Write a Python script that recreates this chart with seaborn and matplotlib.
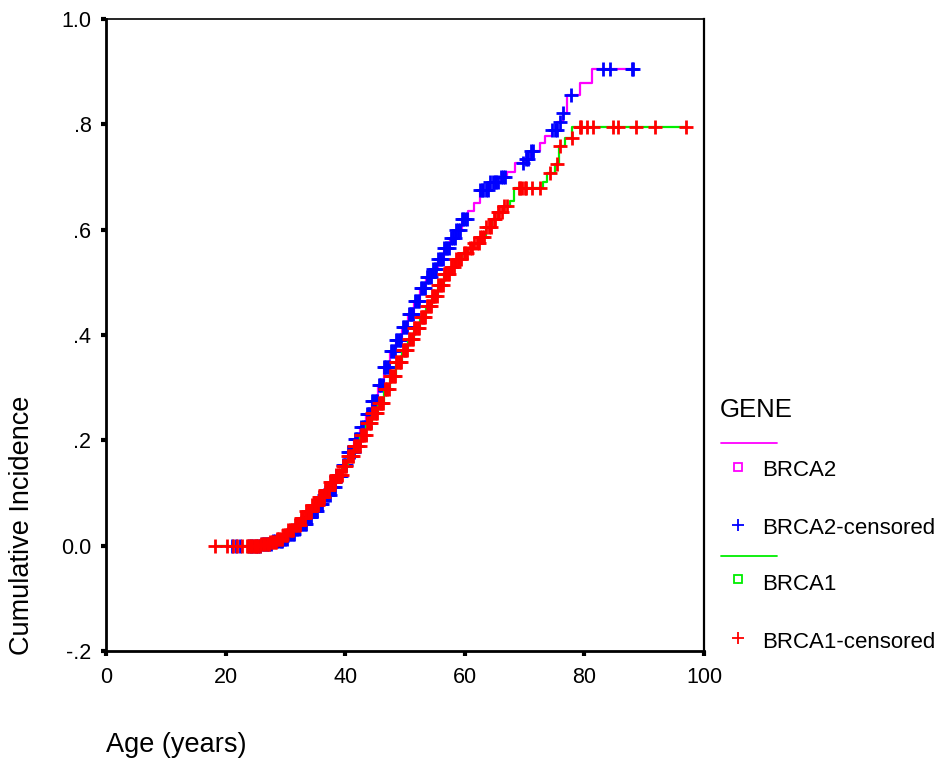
import numpy as np
import pandas as pd
import matplotlib
matplotlib.use("Agg")
import matplotlib.pyplot as plt
from matplotlib.lines import Line2D
import seaborn as sns

# cumulative incidence step curves (age at step, value after step)
brca2_age = [21.0, 26.0, 28.0, 29.5, 30.5, 31.5, 32.5, 33.5, 34.5, 35.5, 36.5, 37.5, 38.5,
             39.5, 40.5, 41.5, 42.5, 43.5, 44.5, 45.5, 46.5, 47.5, 48.5, 49.5, 50.5, 51.5,
             52.5, 53.5, 54.5, 55.5, 56.5, 57.5, 58.5, 59.5, 60.5, 61.5, 62.5, 64.0, 66.0,
             67.0, 68.4, 70.0, 71.0, 72.5, 73.4, 74.5, 75.5, 76.4, 77.1, 79.3, 81.2, 88.2]
brca2_inc = [0.0, 0.004, 0.008, 0.013, 0.022, 0.032, 0.042, 0.054, 0.066, 0.080, 0.096, 0.112,
             0.132, 0.153, 0.178, 0.203, 0.225, 0.250, 0.275, 0.305, 0.340, 0.370, 0.390,
             0.415, 0.440, 0.465, 0.490, 0.510, 0.525, 0.545, 0.565, 0.585, 0.600, 0.620,
             0.635, 0.650, 0.675, 0.690, 0.700, 0.710, 0.727, 0.735, 0.750, 0.765, 0.777,
             0.790, 0.805, 0.822, 0.855, 0.879, 0.905, 0.905]

brca1_age = [18.2, 26.0, 27.5, 28.5, 29.5, 30.5, 31.5, 32.5, 33.5, 34.5, 35.5, 36.5, 37.5,
             38.5, 39.5, 40.5, 41.5, 42.5, 43.5, 44.5, 45.5, 46.5, 47.5, 48.5, 49.5, 50.5,
             51.5, 52.5, 53.5, 54.5, 55.5, 56.5, 57.5, 58.5, 59.5, 60.5, 61.5, 62.5, 63.5,
             64.5, 65.5, 66.5, 67.5, 68.3, 73.0, 73.7, 75.0, 75.8, 76.8, 78.0, 97.0]
brca1_inc = [0.0, 0.003, 0.007, 0.012, 0.020, 0.030, 0.040, 0.052, 0.065, 0.078, 0.092, 0.106,
             0.120, 0.135, 0.152, 0.170, 0.190, 0.210, 0.232, 0.252, 0.270, 0.298, 0.323,
             0.348, 0.372, 0.393, 0.413, 0.435, 0.455, 0.475, 0.495, 0.515, 0.530, 0.545,
             0.555, 0.565, 0.575, 0.587, 0.605, 0.620, 0.633, 0.644, 0.655, 0.680, 0.690,
             0.708, 0.724, 0.758, 0.774, 0.795, 0.795]

# ages of censored cases
brca2_cens = [21.1, 21.8, 22.4, 23.9, 24.3, 24.6, 25.1, 25.4, 25.8, 26.1, 26.4, 26.8, 27.0,
              27.3, 27.6, 28.0, 28.3, 28.6, 28.9, 29.2, 29.4, 29.7, 29.9, 30.2, 30.5, 30.8,
              31.0, 31.2, 31.4, 31.7, 31.9, 32.2, 32.5, 32.8, 33.0, 33.2, 33.4, 33.6, 33.8,
              34.1, 34.3, 34.6, 34.9, 35.1, 35.3, 35.6, 35.8, 36.0, 36.2, 36.5, 36.7, 36.9,
              37.1, 37.4, 37.6, 37.8, 38.0, 38.3, 38.5, 38.7, 38.9, 39.1, 39.3, 39.6, 39.8,
              40.0, 40.2, 40.5, 40.7, 40.9, 41.1, 41.4, 41.6, 41.8, 42.0, 42.2, 42.4, 42.7,
              42.9, 43.1, 43.3, 43.6, 43.8, 44.0, 44.2, 44.5, 44.7, 44.9, 45.1, 45.4, 45.6,
              45.8, 46.0, 46.3, 46.5, 46.7, 46.9, 47.2, 47.4, 47.6, 47.8, 48.1, 48.3, 48.5,
              48.7, 49.0, 49.2, 49.4, 49.6, 49.9, 50.1, 50.4, 50.6, 50.8, 51.0, 51.2, 51.4,
              51.7, 51.9, 52.1, 52.3, 52.6, 52.8, 53.1, 53.3, 53.6, 53.8, 54.0, 54.4, 54.7,
              55.0, 55.2, 55.5, 55.8, 56.0, 56.3, 56.6, 56.9, 57.1, 57.4, 57.7, 58.0, 58.3,
              58.6, 58.9, 59.2, 59.5, 59.7, 60.0, 60.3, 62.5, 62.8, 63.1, 63.5, 63.8, 64.2,
              64.7, 65.0, 65.3, 65.6, 66.0, 66.4, 66.7, 69.7, 70.2, 70.6, 71.0, 71.4, 74.5,
              75.0, 75.4, 75.9, 76.4, 77.7, 83.1, 84.2, 87.9, 88.2]
brca1_cens = [18.2, 20.2, 21.2, 21.9, 22.7, 23.6, 23.8, 24.0, 24.2, 24.4, 24.7, 24.9, 25.1,
              25.3, 25.5, 25.7, 26.0, 26.2, 26.4, 26.6, 26.9, 27.1, 27.3, 27.5, 27.7, 27.9,
              28.2, 28.4, 28.6, 28.8, 29.0, 29.2, 29.4, 29.6, 29.9, 30.1, 30.3, 30.5, 30.7,
              30.9, 31.1, 31.3, 31.6, 31.8, 32.0, 32.2, 32.4, 32.6, 32.8, 33.0, 33.3, 33.5,
              33.7, 33.9, 34.1, 34.3, 34.5, 34.7, 34.9, 35.1, 35.4, 35.6, 35.8, 36.0, 36.2,
              36.4, 36.6, 36.8, 37.1, 37.3, 37.5, 37.7, 37.9, 38.1, 38.3, 38.5, 38.8, 39.0,
              39.2, 39.4, 39.6, 39.8, 40.0, 40.2, 40.5, 40.7, 40.9, 41.1, 41.3, 41.5, 41.7,
              41.9, 42.2, 42.4, 42.6, 42.8, 43.0, 43.2, 43.4, 43.6, 43.9, 44.1, 44.3, 44.5,
              44.7, 44.9, 45.1, 45.3, 45.6, 45.8, 46.0, 46.2, 46.4, 46.6, 46.8, 47.0, 47.3,
              47.5, 47.7, 47.9, 48.1, 48.3, 48.5, 48.7, 49.0, 49.2, 49.4, 49.6, 49.8, 50.0,
              50.2, 50.4, 50.7, 50.9, 51.1, 51.3, 51.5, 51.7, 51.9, 52.1, 52.4, 52.6, 52.8,
              53.0, 53.2, 53.4, 53.6, 53.8, 54.1, 54.3, 54.5, 54.7, 54.9, 55.1, 55.4, 55.6,
              55.8, 56.0, 56.3, 56.5, 56.7, 56.9, 57.2, 57.4, 57.7, 57.9, 58.2, 58.5, 58.8,
              59.0, 59.4, 59.8, 60.1, 60.4, 60.8, 61.2, 61.6, 62.0, 62.3, 62.5, 62.9, 63.2,
              63.6, 64.0, 64.4, 64.8, 65.1, 65.5, 65.8, 66.2, 66.6, 67.0, 69.0, 69.3, 69.6,
              70.0, 70.3, 71.2, 72.6, 74.2, 75.4, 75.9, 77.9, 79.3, 79.5, 80.4, 81.5, 84.8,
              85.7, 88.7, 91.8, 97.0]

x_ticks = [0, 20, 40, 60, 80, 100]
y_ticks = [-0.2, 0.0, 0.2, 0.4, 0.6, 0.8, 1.0]
y_tick_labels = ["-.2", "0.0", ".2", ".4", ".6", ".8", "1.0"]

MAGENTA = "#ff00ff"
BLUE = "#0000ff"
GREEN = "#00ee00"
RED = "#ff0000"


def censor_frame(step_age, step_inc, cens):
    idx = np.searchsorted(step_age, cens, side="right") - 1
    return pd.DataFrame({"age": cens, "inc": np.asarray(step_inc)[idx]})


sns.set_theme(style="white")
plt.rcParams["font.family"] = ["Liberation Sans", "DejaVu Sans"]
plt.rcParams["text.color"] = "black"

W, H = 940, 759
fig = plt.figure(figsize=(W / 100, H / 100), dpi=100)
ax = fig.add_axes([106 / W, 1 - 651 / H, (704 - 106) / W, (651 - 19) / H])

b2 = pd.DataFrame({"age": brca2_age, "inc": brca2_inc})
b1 = pd.DataFrame({"age": brca1_age, "inc": brca1_inc})
c2 = censor_frame(brca2_age, brca2_inc, brca2_cens)
c1 = censor_frame(brca1_age, brca1_inc, brca1_cens)

sns.lineplot(data=b2, x="age", y="inc", drawstyle="steps-post", color=MAGENTA,
             linewidth=1.6, estimator=None, sort=False, ax=ax, zorder=2)
sns.scatterplot(data=c2, x="age", y="inc", marker="+", s=115, color=BLUE,
                linewidth=2.0, ax=ax, zorder=3)
sns.lineplot(data=b1, x="age", y="inc", drawstyle="steps-post", color=GREEN,
             linewidth=1.6, estimator=None, sort=False, ax=ax, zorder=4)
sns.scatterplot(data=c1, x="age", y="inc", marker="+", s=115, color=RED,
                linewidth=2.0, ax=ax, zorder=5)

ax.set_xlim(0, 100)
ax.set_ylim(-0.2, 1.0)
ax.set_xticks(x_ticks)
ax.set_xticklabels([str(t) for t in x_ticks])
ax.set_yticks(y_ticks)
ax.set_yticklabels(y_tick_labels)
ax.set_xlabel("")
ax.set_ylabel("")
ax.tick_params(axis="both", bottom=True, left=True, direction="out", length=3.5, width=3,
               color="black", labelsize=15.5, labelcolor="black")
ax.tick_params(axis="x", pad=8)
ax.tick_params(axis="y", pad=7)
for side, lw in [("left", 2.0), ("bottom", 2.0), ("top", 1.2), ("right", 1.6)]:
    ax.spines[side].set_visible(True)
    ax.spines[side].set_color("black")
    ax.spines[side].set_linewidth(lw)

fig.text(22 / W, 1 - 525 / H, "Cumulative Incidence", rotation=90, ha="center",
         va="center", fontsize=19.5)
fig.text(106 / W, 1 - 745 / H, "Age (years)", ha="left", va="center", fontsize=19.5)


# legend, drawn at the right of the plot
def fx(px):
    return px / W


def fy(py):
    return 1 - py / H


fig.text(fx(720), fy(410), "GENE", ha="left", va="center", fontsize=18.5)
fig.add_artist(Line2D([fx(721), fx(777)], [fy(443), fy(443)], color=MAGENTA, lw=1.3))
fig.add_artist(Line2D([fx(738)], [fy(467)], marker="s", markersize=5.5, mfc="none",
                      mec=MAGENTA, mew=1.3, linestyle="none"))
fig.text(fx(762), fy(471), "BRCA2", ha="left", va="center", fontsize=16)
fig.add_artist(Line2D([fx(738)], [fy(525)], marker="+", markersize=9, color=BLUE,
                      mew=1.3, linestyle="none"))
fig.text(fx(762), fy(529), "BRCA2-censored", ha="left", va="center", fontsize=16)
fig.add_artist(Line2D([fx(721), fx(777)], [fy(556), fy(556)], color=GREEN, lw=1.3))
fig.add_artist(Line2D([fx(738)], [fy(579)], marker="s", markersize=5.5, mfc="none",
                      mec=GREEN, mew=1.3, linestyle="none"))
fig.text(fx(762), fy(584), "BRCA1", ha="left", va="center", fontsize=16)
fig.add_artist(Line2D([fx(738)], [fy(638)], marker="+", markersize=9, color=RED,
                      mew=1.3, linestyle="none"))
fig.text(fx(762), fy(642), "BRCA1-censored", ha="left", va="center", fontsize=16)

fig.savefig("out.png", dpi=100, facecolor="white")
